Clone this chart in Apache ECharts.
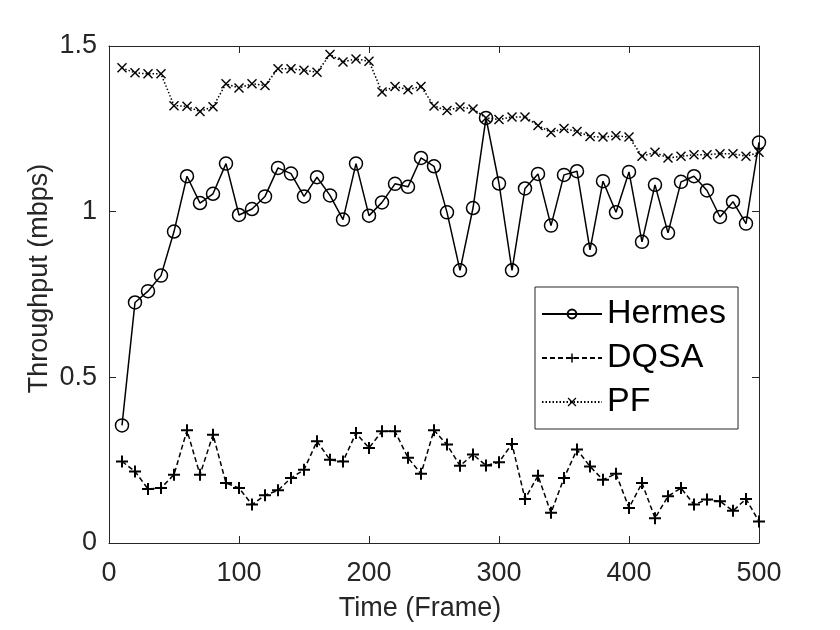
<!DOCTYPE html>
<html>
<head>
<meta charset="utf-8">
<title>Throughput</title>
<script src="https://cdn.jsdelivr.net/npm/echarts@6/dist/echarts.min.js"></script>
<style>
  html, body { margin: 0; padding: 0; background: #fff; }
  #chart { width: 840px; height: 630px; }
</style>
</head>
<body>
<div id="chart"></div>
<script>
"use strict";

// frame index of every sample
const frames = [10, 20, 30, 40, 50, 60, 70, 80, 90, 100,
    110, 120, 130, 140, 150, 160, 170, 180, 190, 200,
    210, 220, 230, 240, 250, 260, 270, 280, 290, 300,
    310, 320, 330, 340, 350, 360, 370, 380, 390, 400,
    410, 420, 430, 440, 450, 460, 470, 480, 490, 500];

// throughput (mbps)
const hermes = [0.355, 0.726, 0.760, 0.807, 0.940, 1.107, 1.026, 1.054, 1.145, 0.990,
    1.008, 1.046, 1.132, 1.115, 1.046, 1.104, 1.049, 0.976, 1.145, 0.988,
    1.028, 1.084, 1.075, 1.162, 1.137, 0.998, 0.823, 1.011, 1.283, 1.085,
    0.823, 1.070, 1.114, 0.958, 1.111, 1.122, 0.885, 1.092, 0.998, 1.120,
    0.909, 1.081, 0.936, 1.090, 1.107, 1.064, 0.984, 1.030, 0.964, 1.209];

const dqsa = [0.246, 0.216, 0.163, 0.166, 0.206, 0.340, 0.206, 0.327, 0.181, 0.166,
    0.116, 0.144, 0.159, 0.196, 0.221, 0.307, 0.251, 0.246, 0.332, 0.287,
    0.337, 0.337, 0.257, 0.209, 0.340, 0.297, 0.233, 0.267, 0.234, 0.244,
    0.299, 0.133, 0.203, 0.091, 0.196, 0.282, 0.231, 0.191, 0.209, 0.106,
    0.181, 0.075, 0.141, 0.166, 0.116, 0.131, 0.126, 0.097, 0.133, 0.065];

const pf = [1.434, 1.419, 1.416, 1.416, 1.320, 1.318, 1.302, 1.317, 1.386, 1.373,
    1.386, 1.381, 1.431, 1.431, 1.427, 1.421, 1.474, 1.452, 1.461, 1.454,
    1.361, 1.378, 1.368, 1.378, 1.319, 1.305, 1.316, 1.310, 1.283, 1.278,
    1.286, 1.286, 1.260, 1.239, 1.251, 1.242, 1.227, 1.225, 1.229, 1.225,
    1.167, 1.179, 1.162, 1.167, 1.172, 1.172, 1.175, 1.175, 1.167, 1.179];

const seriesNames = ['Hermes', 'DQSA', 'PF'];

const AXIS_COLOR = '#262626';
const FONT = '"Liberation Sans", Arial, Helvetica, sans-serif';

// marker shapes (matlab style + and x)
const PLUS = 'path://M-1,-6H1V-1H6V1H1V6H-1V1H-6V-1H-1Z';
const CROSS = 'path://M-5,-4L-4,-5L0,-1L4,-5L5,-4L1,0L5,4L4,5L0,1L-4,5L-5,4L-1,0Z';

function pairs(values) {
    var out = [];
    for (var i = 0; i < frames.length; i++) {
        out.push([frames[i], values[i]]);
    }
    return out;
}

function boxAxis(pos, isX) {
    // axis on the opposite side, only ticks, to close the box
    var ax = {
        type: 'value',
        position: pos,
        min: 0,
        max: isX ? 500 : 1.5,
        interval: isX ? 100 : 0.5,
        axisLine: { show: true, onZero: false, lineStyle: { color: AXIS_COLOR, width: 1 } },
        axisTick: { show: true, inside: true, length: 7, lineStyle: { color: AXIS_COLOR } },
        axisLabel: { show: false },
        splitLine: { show: false }
    };
    return ax;
}

const chart = echarts.init(document.getElementById('chart'), null, { renderer: 'canvas' });

const option = {
    backgroundColor: '#fff',
    animation: false,
    grid: { left: 109, right: 81, top: 46, bottom: 87 },
    legend: {
        orient: 'vertical',
        left: 535,
        top: 287,
        padding: [10, 12, 10, 6],
        itemGap: 10,
        itemWidth: 60,
        itemHeight: 11,
        borderColor: AXIS_COLOR,
        borderWidth: 1,
        backgroundColor: '#fff',
        textStyle: { fontSize: 34, color: '#000', fontFamily: FONT },
        data: seriesNames
    },
    xAxis: [{
        type: 'value',
        min: 0,
        max: 500,
        interval: 100,
        name: 'Time (Frame)',
        nameLocation: 'middle',
        nameGap: 52,
        nameTextStyle: { fontSize: 27, color: AXIS_COLOR, fontFamily: FONT, padding: [0, 28, 0, 0] },
        axisLine: { show: true, onZero: false, lineStyle: { color: AXIS_COLOR, width: 1 } },
        axisTick: { show: true, inside: true, length: 7, lineStyle: { color: AXIS_COLOR } },
        axisLabel: { fontSize: 27, color: AXIS_COLOR, fontFamily: FONT, margin: 17 },
        splitLine: { show: false }
    }, boxAxis('top', true)],
    yAxis: [{
        type: 'value',
        min: 0,
        max: 1.5,
        interval: 0.5,
        name: 'Throughput (mbps)',
        nameLocation: 'middle',
        nameGap: 56,
        nameMoveOverlap: false,
        nameTextStyle: { fontSize: 27, color: AXIS_COLOR, fontFamily: FONT, padding: [0, 0, 0, 32] },
        axisLine: { show: true, onZero: false, lineStyle: { color: AXIS_COLOR, width: 1 } },
        axisTick: { show: true, inside: true, length: 7, lineStyle: { color: AXIS_COLOR } },
        axisLabel: { fontSize: 27, color: AXIS_COLOR, fontFamily: FONT, margin: 12 },
        splitLine: { show: false }
    }, boxAxis('right', false)],
    series: [{
        name: 'Hermes',
        type: 'line',
        data: pairs(hermes),
        symbol: 'circle',
        symbolSize: 13,
        itemStyle: { color: 'rgba(0,0,0,0)', borderColor: '#000', borderWidth: 1.5 },
        lineStyle: { color: '#000', width: 1.5, type: 'solid' }
    }, {
        name: 'DQSA',
        type: 'line',
        data: pairs(dqsa),
        symbol: PLUS,
        symbolSize: 12,
        itemStyle: { color: '#000' },
        lineStyle: { color: '#000', width: 1.5, type: [5, 3] }
    }, {
        name: 'PF',
        type: 'line',
        data: pairs(pf),
        symbol: CROSS,
        symbolSize: 10,
        itemStyle: { color: '#000' },
        lineStyle: { color: '#000', width: 1.5, type: [1.5, 2] }
    }]
};

chart.setOption(option);
console.log('chart ready');
</script>
</body>
</html>
